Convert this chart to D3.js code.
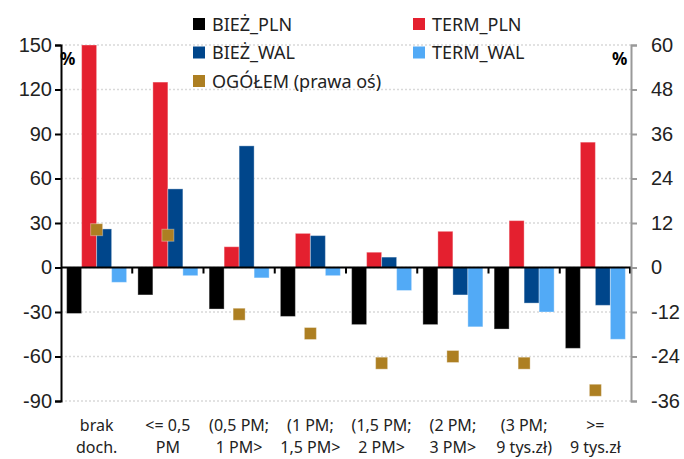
<!DOCTYPE html>
<meta charset="utf-8">
<head>
  <title>Struktura depozytów wg dochodu</title>
</head>
<style>
  body { margin: 0; background: #fff; }
  svg { font-family: "Noto Sans", sans-serif; }
  .grid line { stroke: #d9d9d9; stroke-width: 1.5px; stroke-dasharray: 2,2; }
  .yleft path, .yleft line { stroke: #000; stroke-width: 2px; }
  .yright path, .yright line { stroke: #999; stroke-width: 2px; }
  .tick text { font-size: 20px; fill: #222; }
</style>
<body>
<script src="https://cdn.jsdelivr.net/npm/d3@7"></script>
<script>
// categories (two-line labels)
var categories = ["brak doch.", "<= 0,5 PM", "(0,5 PM; 1 PM>", "(1 PM; 1,5 PM>",
                  "(1,5 PM; 2 PM>", "(2 PM; 3 PM>", "(3 PM; 9 tys.zł)", ">= 9 tys.zł"];
var catLines = [["brak", "doch."], ["<= 0,5", "PM"], ["(0,5 PM;", "1 PM>"], ["(1 PM;", "1,5 PM>"],
                ["(1,5 PM;", "2 PM>"], ["(2 PM;", "3 PM>"], ["(3 PM;", "9 tys.zł)"], [">=", "9 tys.zł"]];

// series values, left axis (%)
var biezPln = [-31, -18.5, -28, -33, -38.5, -38.5, -41.5, -54.5];
var termPln = [150, 125, 14, 23, 10.3, 24.4, 31.6, 84.5];
var biezWal = [26, 53, 82, 21.5, 7, -18.5, -24, -25.5];
var termWal = [-10, -5.5, -7, -5.5, -15.5, -40, -30, -48.4];
// right axis (%)
var ogolem = [10.2, 8.7, -12.6, -17.8, -25.8, -24, -25.8, -33.1];

var leftTicks = [150, 120, 90, 60, 30, 0, -30, -60, -90];
var rightTicks = [60, 48, 36, 24, 12, 0, -12, -24, -36];

var series = [
  {name: "BIEŻ_PLN", values: biezPln, color: "#000000"},
  {name: "TERM_PLN", values: termPln, color: "#e4202f"},
  {name: "BIEŻ_WAL", values: biezWal, color: "#00468b"},
  {name: "TERM_WAL", values: termWal, color: "#52aaf6"}
];
var ogolemColor = "#ad7f22";

var width = 684, height = 459;
var plot = {left: 61, right: 631, top: 45, bottom: 401};

var svg = d3.select("body").append("svg")
    .attr("width", width)
    .attr("height", height);

var x = d3.scaleBand().domain(categories).range([plot.left, plot.right]).padding(0);
var xs = d3.scaleBand().domain(series.map(function(s) { return s.name; }))
    .range([0, x.bandwidth()]).paddingInner(0).paddingOuter(0.375);
var yL = d3.scaleLinear().domain([-90, 150]).range([plot.bottom, plot.top]);
var yR = d3.scaleLinear().domain([-36, 60]).range([plot.bottom, plot.top]);

// gridlines
svg.append("g").attr("class", "grid")
  .selectAll("line").data(leftTicks).enter().append("line")
    .attr("x1", plot.left).attr("x2", plot.right)
    .attr("y1", function(d) { return yL(d); })
    .attr("y2", function(d) { return yL(d); });

// bars
var groups = svg.append("g").selectAll("g")
    .data(series).enter().append("g")
    .attr("fill", function(s) { return s.color; });

groups.selectAll("rect")
    .data(function(s) { return s.values.map(function(v, i) { return {s: s.name, v: v, c: categories[i]}; }); })
    .enter().append("rect")
    .attr("x", function(d) { return x(d.c) + xs(d.s); })
    .attr("width", xs.bandwidth())
    .attr("y", function(d) { return yL(Math.max(0, d.v)); })
    .attr("height", function(d) { return Math.abs(yL(d.v) - yL(0)); })
    .attr("stroke", "rgba(255,255,255,0.35)")
    .attr("stroke-width", 1);

// zero line with category ticks
svg.append("line")
    .attr("x1", plot.left).attr("x2", plot.right)
    .attr("y1", yL(0)).attr("y2", yL(0))
    .attr("stroke", "#000").attr("stroke-width", 2);
svg.append("g").selectAll("line")
    .data(categories.slice(1).concat(["end"])).enter().append("line")
    .attr("x1", function(d) { return d === "end" ? plot.right - 1 : x(d); })
    .attr("x2", function(d) { return d === "end" ? plot.right - 1 : x(d); })
    .attr("y1", yL(0)).attr("y2", yL(0) + 6)
    .attr("stroke", "#000").attr("stroke-width", 2);

// OGÓŁEM markers (right axis)
svg.append("g").selectAll("rect")
    .data(ogolem).enter().append("rect")
    .attr("x", function(d, i) { return x(categories[i]) + x.bandwidth() / 2 - 6; })
    .attr("y", function(d) { return yR(d) - 6; })
    .attr("width", 12).attr("height", 12)
    .attr("fill", ogolemColor)
    .attr("stroke", "rgba(255,255,255,0.35)");

// axes
svg.append("g").attr("class", "yleft")
    .attr("transform", "translate(" + plot.left + ",0)")
    .call(d3.axisLeft(yL).tickValues(leftTicks).tickFormat(function(d) { return String(d); })
      .tickSizeOuter(6).tickSize(6).tickPadding(3));

svg.append("g").attr("class", "yright")
    .attr("transform", "translate(" + plot.right + ",0)")
    .call(d3.axisRight(yR).tickValues(rightTicks).tickFormat(function(d) { return String(d); })
      .tickSizeOuter(6).tickSize(6).tickPadding(14));

svg.selectAll(".tick text").attr("font-family", null);

// % labels
svg.append("text").attr("x", 60).attr("y", 65)
    .style("font-size", "17px").style("font-weight", "bold").text("%");
svg.append("text").attr("x", 612).attr("y", 65)
    .style("font-size", "17px").style("font-weight", "bold").text("%");

// category labels
var xl = svg.append("g").selectAll("text")
    .data(catLines).enter().append("text")
    .attr("text-anchor", "middle")
    .style("font-size", "16px").style("fill", "#222")
    .attr("transform", function(d, i) { return "translate(" + (x(categories[i]) + x.bandwidth() / 2) + ",0)"; });
xl.append("tspan").attr("x", 0).attr("y", 431).text(function(d) { return d[0]; });
xl.append("tspan").attr("x", 0).attr("y", 453).text(function(d) { return d[1]; });

// legend
var legendItems = [
  {name: "BIEŻ_PLN", color: series[0].color, col: 0, row: 0},
  {name: "TERM_PLN", color: series[1].color, col: 1, row: 0},
  {name: "BIEŻ_WAL", color: series[2].color, col: 0, row: 1},
  {name: "TERM_WAL", color: series[3].color, col: 1, row: 1},
  {name: "OGÓŁEM (prawa oś)", color: ogolemColor, col: 0, row: 2}
];
var leg = svg.append("g").selectAll("g")
    .data(legendItems).enter().append("g")
    .attr("transform", function(d) { return "translate(" + (193 + d.col * 220) + "," + (24 + d.row * 28.5) + ")"; });
leg.append("rect").attr("x", 0).attr("y", -6).attr("width", 12).attr("height", 12)
    .attr("fill", function(d) { return d.color; });
leg.append("text").attr("x", 19).attr("y", 6.5)
    .style("font-size", "18px").style("fill", "#222")
    .text(function(d) { return d.name; });
</script>
</body>
